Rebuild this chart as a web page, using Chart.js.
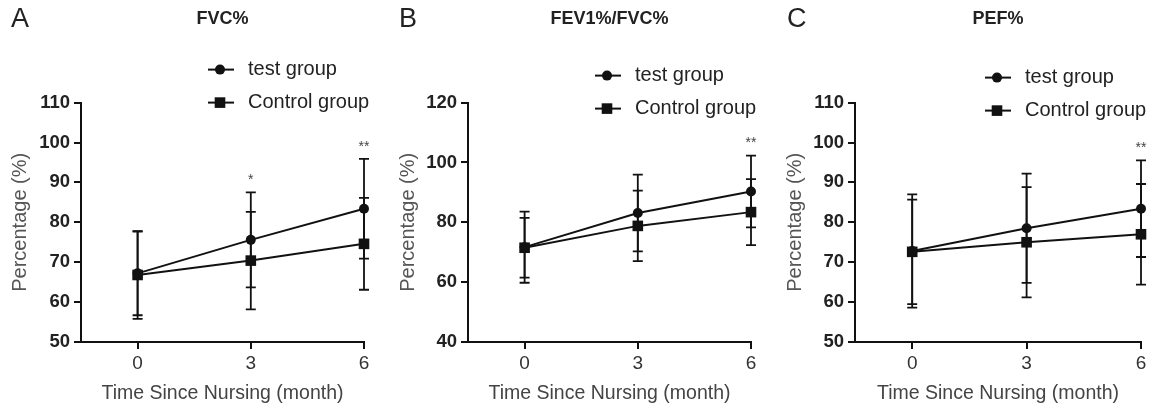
<!DOCTYPE html>
<html>
<head>
<meta charset="utf-8">
<script src="https://cdn.jsdelivr.net/npm/chart.js@4.4.1/dist/chart.umd.min.js"></script>
<style>
  body { margin: 0; background: #fff; width: 1154px; height: 408px; overflow: hidden; position: relative;
         font-family: "Liberation Sans", Arial, sans-serif; }
  .panel { position: absolute; top: 0; height: 408px; }
  .letter { position: absolute; top: 5px; font-size: 27px; line-height: 27px; color: #222; }
</style>
</head>
<body>
<div class="panel" style="left:0;width:385px"><canvas id="chartA" width="385" height="408"></canvas></div>
<div class="panel" style="left:385px;width:385px"><canvas id="chartB" width="385" height="408"></canvas></div>
<div class="panel" style="left:770px;width:384px"><canvas id="chartC" width="384" height="408"></canvas></div>
<div class="letter" style="left:11px">A</div>
<div class="letter" style="left:399px">B</div>
<div class="letter" style="left:787px">C</div>

<script>
// months after nursing (x axis)
const months = [0, 3, 6];
const seriesNames = ['test group', 'Control group'];

// A - FVC%
const fvcTest = [67.2, 75.6, 83.4];
const fvcTestSd = [10.5, 11.9, 12.5];
const fvcCtrl = [66.8, 70.4, 74.6];
const fvcCtrlSd = [11.0, 12.2, 11.5];
const fvcSig = ['', '*', '**'];

// B - FEV1%/FVC%
const fevTest = [71.7, 83.1, 90.3];
const fevTestSd = [11.9, 12.8, 12.0];
const fevCtrl = [71.5, 78.8, 83.4];
const fevCtrlSd = [10.0, 11.8, 11.0];
const fevSig = ['', '', '**'];

// C - PEF%
const pefTest = [72.8, 78.5, 83.4];
const pefTestSd = [14.2, 13.7, 12.1];
const pefCtrl = [72.6, 75.0, 77.0];
const pefCtrlSd = [13.1, 13.8, 12.6];
const pefSig = ['', '', '**'];

const FONT = '"Liberation Sans", Arial, sans-serif';
const INK = '#111';

// error bars + significance stars, drawn under the points
const errorBars = {
  id: 'errorBars',
  beforeDatasetsDraw(chart, args, opts) {
    const { ctx, scales: { x, y } } = chart;
    ctx.save();
    ctx.strokeStyle = INK;
    ctx.lineWidth = 1.8;
    chart.data.datasets.forEach((ds, i) => {
      const sd = opts.sd[i];
      ds.data.forEach((p, j) => {
        const px = x.getPixelForValue(p.x);
        const top = y.getPixelForValue(p.y + sd[j]);
        const bot = y.getPixelForValue(p.y - sd[j]);
        ctx.beginPath();
        ctx.moveTo(px, top); ctx.lineTo(px, bot);
        ctx.moveTo(px - 5, top); ctx.lineTo(px + 5, top);
        ctx.moveTo(px - 5, bot); ctx.lineTo(px + 5, bot);
        ctx.stroke();
      });
    });
    ctx.fillStyle = '#444';
    ctx.font = '14px ' + FONT;
    ctx.textAlign = 'center';
    ctx.textBaseline = 'middle';
    opts.sig.forEach((s, j) => {
      if (!s) return;
      const hi = Math.max(...chart.data.datasets.map((ds, i) => ds.data[j].y + opts.sd[i][j]));
      ctx.fillText(s, x.getPixelForValue(months[j]), y.getPixelForValue(hi) - 12);
    });
    ctx.restore();
  }
};

// legend: short line with marker, stacked in two rows top right
const lineLegend = {
  id: 'lineLegend',
  afterDraw(chart, args, opts) {
    const { ctx, chartArea } = chart;
    const x0 = chartArea.right - 156;
    ctx.save();
    chart.data.datasets.forEach((ds, i) => {
      const yy = chartArea.top + opts.top + i * 33;
      ctx.strokeStyle = INK;
      ctx.lineWidth = 2;
      ctx.beginPath();
      ctx.moveTo(x0, yy); ctx.lineTo(x0 + 26, yy);
      ctx.stroke();
      ctx.fillStyle = INK;
      Chart.helpers.drawPoint(ctx, { pointStyle: ds.pointStyle, radius: ds.pointRadius, borderWidth: 0, rotation: 0 }, x0 + 12, yy);
      ctx.fillStyle = '#222';
      ctx.font = '20px ' + FONT;
      ctx.textAlign = 'left';
      ctx.textBaseline = 'middle';
      ctx.fillText(ds.label, x0 + 40, yy);
    });
    ctx.restore();
  }
};

function makePanel(id, title, yMin, yMax, step, test, testSd, ctrl, ctrlSd, sig, lay) {
  const pts = vals => months.map((m, i) => ({ x: m, y: vals[i] }));
  return new Chart(document.getElementById(id), {
    type: 'line',
    data: {
      datasets: [
        { label: seriesNames[0], data: pts(test), borderColor: INK, borderWidth: 2,
          pointStyle: 'circle', pointRadius: 5, pointBackgroundColor: INK, pointBorderWidth: 0, clip: false },
        { label: seriesNames[1], data: pts(ctrl), borderColor: INK, borderWidth: 2,
          pointStyle: 'rect', pointRadius: 7.5, pointBackgroundColor: INK, pointBorderWidth: 0, clip: false }
      ]
    },
    options: {
      responsive: false,
      animation: false,
      layout: { padding: { top: 0, left: 0, right: lay.right, bottom: 0 } },
      plugins: {
        legend: { display: false },
        tooltip: { enabled: false },
        title: { display: true, text: title, fullSize: false, color: '#222',
                 font: { family: FONT, size: 18, weight: 'bold' }, padding: { top: 8, bottom: 73 } },
        errorBars: { sd: [testSd, ctrlSd], sig: sig },
        lineLegend: { top: lay.legendTop }
      },
      scales: {
        x: {
          type: 'linear', min: -1.5, max: 6,
          afterBuildTicks: s => { s.ticks = months.map(v => ({ value: v })); },
          afterFit: s => { s.height = 66; },
          border: { display: true, color: INK, width: 2 },
          grid: { drawOnChartArea: false, color: INK, lineWidth: 2, tickLength: 7 },
          ticks: { color: '#333', padding: 3, font: { family: FONT, size: 19 } },
          title: { display: true, text: 'Time Since Nursing (month)', color: '#444',
                   font: { family: FONT, size: 19.5 }, padding: { top: 0, bottom: 3 } }
        },
        y: {
          min: yMin, max: yMax,
          afterFit: s => { s.width = lay.axisX; },
          border: { display: true, color: INK, width: 2 },
          grid: { drawOnChartArea: false, color: INK, lineWidth: 2, tickLength: 7 },
          ticks: { stepSize: step, color: '#222', padding: 4, font: { family: FONT, size: 18.5, weight: 'bold' } },
          title: { display: true, text: 'Percentage (%)', color: '#555',
                   font: { family: FONT, size: 20 }, padding: { top: lay.titlePad, bottom: 0 } }
        }
      }
    },
    plugins: [errorBars, lineLegend]
  });
}

makePanel('chartA', 'FVC%', 50, 110, 10, fvcTest, fvcTestSd, fvcCtrl, fvcCtrlSd, fvcSig,
  { axisX: 81, right: 21, titlePad: 8, legendTop: -33 });
makePanel('chartB', 'FEV1%/FVC%', 40, 120, 20, fevTest, fevTestSd, fevCtrl, fevCtrlSd, fevSig,
  { axisX: 83, right: 19, titlePad: 11, legendTop: -27 });
makePanel('chartC', 'PEF%', 50, 110, 10, pefTest, pefTestSd, pefCtrl, pefCtrlSd, pefSig,
  { axisX: 85, right: 13, titlePad: 13, legendTop: -25 });
</script>
</body>
</html>
